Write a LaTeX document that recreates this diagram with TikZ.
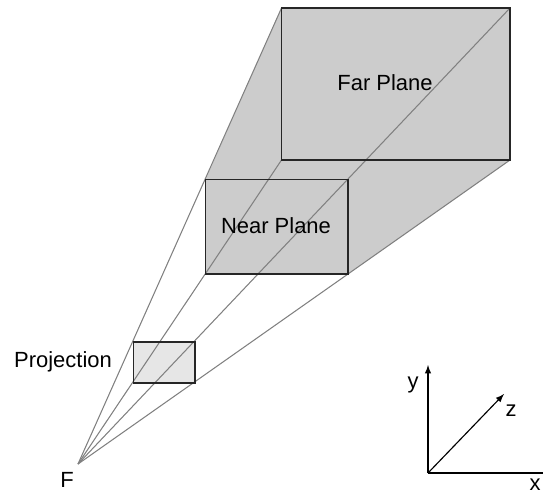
\documentclass[tikz,border=0pt]{standalone}
\usepackage{fontspec}
\setmainfont{Liberation Sans}
\usepackage{xcolor}
\definecolor{planegray}{HTML}{CCCCCC}
\definecolor{projgray}{HTML}{E6E6E6}
\definecolor{raygray}{HTML}{808080}
\tikzset{
  ray/.style={raygray,line width=0.6pt},
  plane/.style={black!85,line width=0.65pt},
  axis/.style={->,>=latex,line width=0.65pt},
  lbl/.style={inner sep=0pt,font=\fontsize{12.5}{15}\selectfont}
}

\begin{document}
\begin{tikzpicture}[x=0.02cm,y=-0.02cm]
\useasboundingbox (0,0) rectangle (543,491);
% Corners of the planes
\coordinate (F) at (78,464);
\coordinate (farTL) at (281.5,8);
\coordinate (farTR) at (510,8);
\coordinate (farBR) at (510,160);
\coordinate (farBL) at (281.5,160);
\coordinate (nearTL) at (205.5,179.5);
\coordinate (nearTR) at (348,179.5);
\coordinate (nearBR) at (348,274);
\coordinate (nearBL) at (205.5,274);
\coordinate (projTL) at (133.5,342);
\coordinate (projTR) at (195,342);
\coordinate (projBR) at (195,383);
\coordinate (projBL) at (133.5,383);
% Frustum
\fill[planegray] (farTL) -- (farTR) -- (farBR) -- (nearBR) -- (nearBL) -- (nearTL) -- cycle;
\fill[projgray] (projTL) rectangle (projBR);
% Rays from the focal point
\draw[ray] (F) -- (farTL);
\draw[ray] (F) -- (farTR);
\draw[ray] (F) -- (farBR);
\draw[ray] (F) -- (farBL);
% Planes
\draw[plane] (farTL) rectangle (farBR);
\draw[plane] (nearTL) rectangle (nearBR);
\draw[plane] (projTL) rectangle (projBR);
% Labels
\node[lbl] (farlabel) at (385,83) {Far Plane};
\node[lbl] (nearlabel) at (276,226) {Near Plane};
\node[lbl] (projlabel) at (63,362) {Projection};
\node[lbl] (flabel) at (67,480) {F};
% Axes
\coordinate (O) at (428,473);
\coordinate (xend) at (543,473);
\coordinate (yend) at (428,365);
\coordinate (zend) at (504,394);
\draw[axis,-] (O) -- (xend);
\draw[axis] (O) -- (yend);
\draw[axis] (O) -- (zend);
\node[lbl] (ylabel) at (413,385) {y};
\node[lbl] (zlabel) at (511,411) {z};
\node[lbl] (xlabel) at (535,485) {x};
\end{tikzpicture}
\end{document}
